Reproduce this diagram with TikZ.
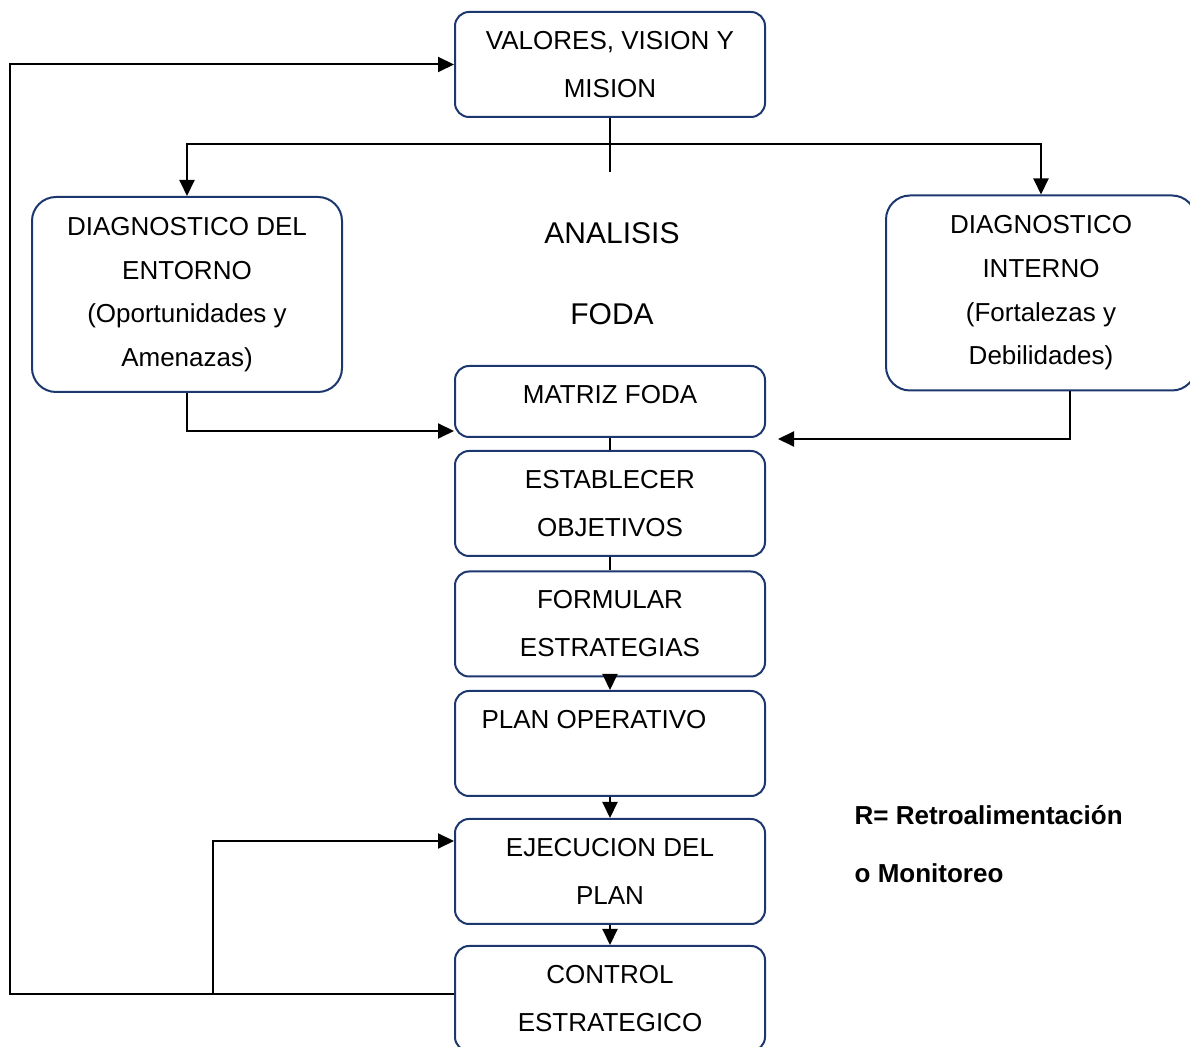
\documentclass[tikz,border=0pt]{standalone}
\usepackage{fontspec}
\setmainfont{Liberation Sans}
\usetikzlibrary{arrows.meta}
\tikzset{>={Triangle[length=8pt,width=7.5pt]}}
\definecolor{azul}{RGB}{28,55,110}

\begin{document}
\begin{tikzpicture}[x=0.5pt, y=-0.5pt, line width=1pt,
    caja/.style={draw=azul, rounded corners=7pt, minimum width=155pt, minimum height=52.5pt, align=center, font=\fontsize{13}{24}\selectfont},
    diag/.style={caja, rounded corners=12pt, minimum height=97.5pt, font=\fontsize{13}{21.8}\selectfont},
    texto/.style={font=\fontsize{13}{24}\selectfont},
    titulo/.style={font=\fontsize{15}{18}\selectfont},
    nota/.style={anchor=west, font=\fontsize{13}{16}\selectfont\bfseries}]
    \useasboundingbox (0,0) rectangle (1190,1047);
    % cajas
    \node[caja](valores)at(610, 64.5){VALORES, VISION Y\\MISION};
    \node[diag](entorno)at(187, 294.5){DIAGNOSTICO DEL\\ENTORNO\\(Oportunidades y\\Amenazas)};
    \node[diag](interno)at(1041, 293){DIAGNOSTICO\\INTERNO\\(Fortalezas y\\Debilidades)};
    \node[caja, minimum height=35.5pt](matriz)at(610, 401.5){};
    \node[texto](tmatriz)at(610, 395){MATRIZ FODA};
    \node[caja](establecer)at(610, 503.5){ESTABLECER\\OBJETIVOS};
    \node[caja](formular)at(610, 624){FORMULAR\\ESTRATEGIAS};
    \node[caja](plan)at(610, 743.5){};
    \node[texto](tplan)at(594, 720){PLAN OPERATIVO};
    \node[caja](ejecucion)at(610, 871.5){EJECUCION DEL\\PLAN};
    \node[caja](control)at(610, 998.5){CONTROL\\ESTRATEGICO};
    \node[titulo](analisis)at(612, 233){ANALISIS};
    \node[titulo](foda)at(612, 314){FODA};
    \node[nota](retro)at(847, 815){R= Retroalimentación};
    \node[nota](monitoreo)at(847, 873){o Monitoreo};
    % conectores
    \coordinate(reparto)at(610, 144);
    \draw(valores.south)--++(0, 54);
    \draw[->](reparto)-|(entorno.north);
    \draw[->](reparto)-|(interno.north);
    \draw[->](entorno.south)|-([yshift=3.5pt]matriz.south west);
    \coordinate(llegada)at(778, 439);
    \draw[->]([xshift=14.5pt]interno.south)|-(llegada);
    \draw(matriz)--(establecer);
    \draw(establecer)--(formular);
    \draw[->](formular)--(plan);
    \draw[->](plan)--(ejecucion);
    \draw[->](ejecucion)--(control);
    % retroalimentacion
    \coordinate(esquina)at(10, 994);
    \coordinate(rama)at(213, 994);
    \draw[->](control.west|-esquina)--(esquina)|-(valores.west);
    \draw[->](rama)|-([yshift=-11.5pt]ejecucion.north west);
\end{tikzpicture}
\end{document}
